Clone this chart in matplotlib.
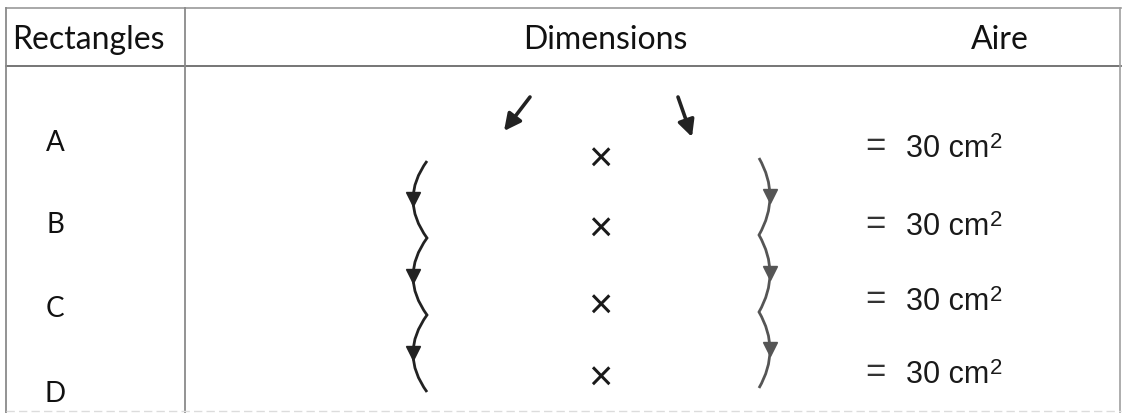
import matplotlib
matplotlib.use('Agg')
import matplotlib.pyplot as plt
from matplotlib.path import Path
from matplotlib.patches import PathPatch

# table content
headers = ['Rectangles', 'Dimensions', 'Aire']
rectangles = ['A', 'B', 'C', 'D']
aires = [30, 30, 30, 30]
unit = 'cm'
power = '2'

# layout (pixels, y downwards)
W, H = 1127, 413
header_x = [88, 605, 1000]
header_base = 49
label_base = [151, 233, 317, 402]
times_y = [158, 228, 305, 377]
aire_base = [157, 235, 310, 383]
cusps_left = [161, 238, 315, 392]
cusps_right = [158, 235, 312, 388]

fig = plt.figure(figsize=(W / 100, H / 100), dpi=100)
ax = fig.add_axes([0, 0, 1, 1])
ax.set_xlim(0, W)
ax.set_ylim(H, 0)
ax.axis('off')

# grid lines
ax.plot([6, 1121], [8, 8], color='#9a9a9a', lw=1.2)
ax.plot([6, 1121], [66, 66], color='#6a6a6a', lw=1.3)
ax.plot([6, 6], [8, H], color='#8a8a8a', lw=1.3)
ax.plot([185, 185], [8, H], color='#8a8a8a', lw=1.3)
ax.plot([1120, 1120], [8, H], color='#a0a0a0', lw=1.2)
ax.plot([6, 1121], [411, 411], color='#dcdcdc', lw=1.0, ls=(0, (6, 3)))

hfont = 'Lato'
for x, t in zip(header_x, headers):
    ax.text(x, header_base, t, ha='center', va='baseline', fontsize=23,
            family=hfont, color='#111111')

for y, r in zip(label_base, rectangles):
    ax.text(55, y, r, ha='center', va='baseline', fontsize=20,
            family=hfont, color='#111111')

for y in times_y:
    ax.text(600, y + 14, '×', ha='center', va='baseline', fontsize=30,
            family='Liberation Sans', color='#1a1a1a')

renderer = fig.canvas.get_renderer()
for y, a in zip(aire_base, aires):
    ax.text(875, y - 1, '=', ha='center', va='baseline', fontsize=25,
            family='Liberation Sans', color='#333333')
    t = ax.text(906, y, f'{a} {unit}', ha='left', va='baseline',
                fontsize=22, family='Liberation Sans', color='#1a1a1a')
    bb = t.get_window_extent(renderer).transformed(ax.transData.inverted())
    ax.text(bb.x1 + 1, y - 9, power, ha='left', va='baseline',
            fontsize=16, family='Liberation Sans', color='#1a1a1a')


def wave(cusps, x_cusp, x_bulge, color):
    verts, codes = [], []
    xc = 2 * x_bulge - x_cusp
    for y0, y1 in zip(cusps[:-1], cusps[1:]):
        if not verts:
            verts.append((x_cusp, y0))
            codes.append(Path.MOVETO)
        verts += [(xc, (y0 + y1) / 2), (x_cusp, y1)]
        codes += [Path.CURVE3, Path.CURVE3]
        ax.plot(x_bulge, (y0 + y1) / 2 - 1, marker='v', ms=10, color=color,
                mec=color)
    ax.add_patch(PathPatch(Path(verts, codes), fc='none', ec=color, lw=2.0))


wave(cusps_left, 427, 413, '#222222')
wave(cusps_right, 759, 770, '#555555')

# the two slanted arrows above
ax.annotate('', xy=(504, 131), xytext=(530, 97),
            arrowprops=dict(arrowstyle='-|>,head_length=1.0,head_width=0.5',
                            lw=2.6, color='#222222', shrinkA=0, shrinkB=0))
ax.annotate('', xy=(692, 137), xytext=(678, 97),
            arrowprops=dict(arrowstyle='-|>,head_length=1.0,head_width=0.5',
                            lw=2.6, color='#222222', shrinkA=0, shrinkB=0))

fig.savefig('out.png', dpi=100, facecolor='white')
